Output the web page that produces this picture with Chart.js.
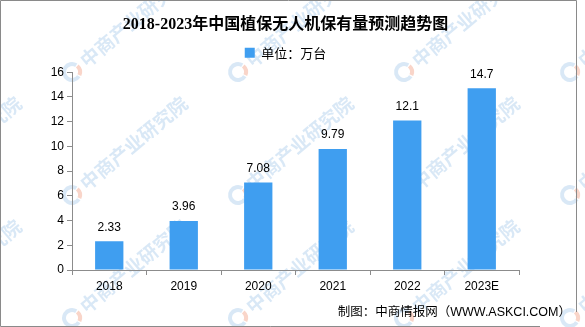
<!DOCTYPE html>
<html>
<head>
<meta charset="utf-8">
<script src="https://cdn.jsdelivr.net/npm/chart.js@4.4.1/dist/chart.umd.min.js"></script>
<style>
  html, body { margin: 0; padding: 0; background: #fff; }
  #chart { display: block; }
</style>
</head>
<body>
<canvas id="chart" width="585" height="327"></canvas>
<script>
/* global Chart */

const years = ['2018', '2019', '2020', '2021', '2022', '2023E']
const holdings = [2.33, 3.96, 7.08, 9.79, 12.1, 14.7]
const seriesName = '单位：万台'
const titleText = '2018-2023年中国植保无人机保有量预测趋势图'
const sourceText = '制图：中商情报网（WWW.ASKCI.COM）'
const watermarkText = '中商产业研究院'

const BAR_BLUE = '#3f9ef0'
const AXIS_GREY = '#8c8c8c'

// faint diagonal brand marks behind the bars
const watermark = {
  id: 'watermark',
  beforeDraw(chart) {
    const ctx = chart.ctx
    ctx.save()
    const cols = [-94, 72, 238, 404, 570]
    const rows = [72, 195, 318]
    for (const x of cols) {
      for (const y of rows) {
        ctx.save()
        ctx.translate(x, y)
        ctx.rotate(-40 * Math.PI / 180)
        ctx.lineWidth = 4
        ctx.strokeStyle = 'rgba(170,205,235,0.45)'
        ctx.beginPath()
        ctx.arc(0, 0, 8, 0.4 * Math.PI, 1.9 * Math.PI)
        ctx.stroke()
        ctx.strokeStyle = 'rgba(240,150,120,0.4)'
        ctx.beginPath()
        ctx.arc(0, 0, 8, 1.95 * Math.PI, 2.35 * Math.PI)
        ctx.stroke()
        ctx.fillStyle = 'rgba(170,205,235,0.45)'
        ctx.font = 'bold 19px "Noto Sans CJK SC"'
        ctx.textBaseline = 'middle'
        ctx.fillText(watermarkText, 14, 0)
        ctx.restore()
      }
    }
    ctx.restore()
  }
}

// value above each bar, plus the outer frame lines
const barValues = {
  id: 'barValues',
  afterDatasetsDraw(chart) {
    const ctx = chart.ctx
    const meta = chart.getDatasetMeta(0)
    ctx.save()
    ctx.fillStyle = '#000'
    ctx.font = '12px "Liberation Sans"'
    ctx.textAlign = 'center'
    ctx.textBaseline = 'middle'
    meta.data.forEach((bar, i) => {
      ctx.fillText(String(holdings[i]), bar.x, bar.y - 14)
    })
    ctx.strokeStyle = '#8a8a8a'
    ctx.lineWidth = 1
    ctx.beginPath()
    ctx.moveTo(540, 326.5)
    ctx.lineTo(0.5, 326.5)
    ctx.lineTo(0.5, 0.5)
    ctx.lineTo(576.5, 0.5)
    ctx.lineTo(576.5, 312)
    ctx.stroke()
    ctx.restore()
  }
}

// keep the legend block a fixed height so the plot top lines up
const legendHeight = {
  id: 'legendHeight',
  beforeInit(chart) {
    const fit = chart.legend.fit
    chart.legend.fit = function () {
      fit.call(this)
      this.height = 32
    }
  }
}

const chart = new Chart(document.getElementById('chart'), {
  type: 'bar',
  data: {
    labels: years,
    datasets: [{
      label: seriesName,
      data: holdings,
      backgroundColor: BAR_BLUE,
      borderWidth: 0,
      barPercentage: 0.38,
      categoryPercentage: 1
    }]
  },
  options: {
    responsive: false,
    animation: false,
    layout: { padding: { left: 0, right: 14, top: 0, bottom: 0 } },
    plugins: {
      title: {
        display: true,
        text: titleText,
        color: '#000',
        font: { family: '"Liberation Serif", "Noto Sans CJK SC"', size: 16, weight: 'bold' },
        padding: { top: 15, bottom: 6 }
      },
      legend: {
        display: true,
        labels: {
          color: '#000',
          font: { family: '"Noto Sans CJK SC"', size: 13 },
          boxWidth: 10,
          boxHeight: 10,
          padding: 6
        }
      },
      subtitle: {
        display: true,
        position: 'bottom',
        align: 'end',
        text: sourceText,
        color: '#000',
        font: { family: '"Liberation Sans", "Noto Sans CJK SC"', size: 12.5 },
        padding: { top: 4, bottom: 7 }
      },
      tooltip: { enabled: false }
    },
    scales: {
      x: {
        grid: {
          display: true,
          drawOnChartArea: false,
          offset: true,
          color: AXIS_GREY,
          tickLength: 5
        },
        border: { color: AXIS_GREY },
        ticks: { color: '#000', font: { family: '"Liberation Sans"', size: 12 }, padding: 4 },
        afterFit(scale) { scale.height = 31 }
      },
      y: {
        min: 0,
        max: 16,
        grid: {
          display: true,
          drawOnChartArea: false,
          color: AXIS_GREY,
          tickLength: 5
        },
        border: { color: AXIS_GREY },
        ticks: { stepSize: 2, color: '#000', font: { family: '"Liberation Sans"', size: 12 }, padding: 3 },
        afterFit(scale) { scale.width = 72 }
      },
      // empty right-hand gutter so the plot ends where the axis line stops
      gutter: {
        type: 'linear',
        position: 'right',
        grid: { display: false },
        border: { display: false },
        ticks: { display: false },
        afterFit(scale) { scale.width = 52 }
      }
    }
  },
  plugins: [watermark, barValues, legendHeight]
})
</script>
</body>
</html>
